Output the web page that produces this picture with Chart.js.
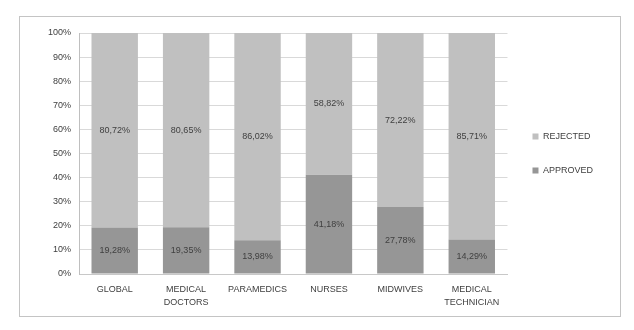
<!DOCTYPE html>
<html>
<head>
<meta charset="utf-8">
<script src="https://cdn.jsdelivr.net/npm/chart.js@4/dist/chart.umd.min.js"></script>
<style>
html,body{margin:0;padding:0;background:#fff;}
#wrap{position:relative;width:634px;height:330px;}
</style>
</head>
<body>
<div id="wrap"><canvas id="c" width="634" height="330"></canvas></div>
<script>
const categories = [["GLOBAL"], ["MEDICAL", "DOCTORS"], ["PARAMEDICS"], ["NURSES"], ["MIDWIVES"], ["MEDICAL", "TECHNICIAN"]];
const approved = [19.28, 19.35, 13.98, 41.18, 27.78, 14.29];
const rejected = [80.72, 80.65, 86.02, 58.82, 72.22, 85.71];
const yTicks = [0, 10, 20, 30, 40, 50, 60, 70, 80, 90, 100];

const FONT = "'Liberation Sans', Arial, sans-serif";
const TEXT = '#404040';

const frame = {
  id: 'frame',
  beforeDraw(chart) {
    const ctx = chart.ctx;
    ctx.save();
    ctx.fillStyle = '#fff';
    ctx.fillRect(0, 0, chart.width, chart.height);
    ctx.strokeStyle = '#c4c4c4';
    ctx.lineWidth = 1;
    ctx.strokeRect(19.5, 16.5, 601, 300);
    ctx.restore();
  }
};

const valueLabels = {
  id: 'valueLabels',
  afterDatasetsDraw(chart) {
    const ctx = chart.ctx;
    ctx.save();
    ctx.font = '9px ' + FONT;
    ctx.fillStyle = TEXT;
    ctx.textAlign = 'center';
    ctx.textBaseline = 'middle';
    chart.data.datasets.forEach((ds, i) => {
      const meta = chart.getDatasetMeta(i);
      meta.data.forEach((el, j) => {
        const p = el.getCenterPoint();
        const txt = ds.data[j].toFixed(2).replace('.', ',') + '%';
        ctx.fillText(txt, p.x, p.y);
      });
    });
    ctx.restore();
  }
};

new Chart(document.getElementById('c'), {
  type: 'bar',
  data: {
    labels: categories,
    datasets: [
      { label: 'APPROVED', data: approved, backgroundColor: '#969696', borderWidth: 0 },
      { label: 'REJECTED', data: rejected, backgroundColor: '#c0c0c0', borderWidth: 0 }
    ]
  },
  options: {
    responsive: false,
    animation: false,
    devicePixelRatio: 1,
    layout: { padding: { left: 40, top: 33, right: 31, bottom: 14 } },
    datasets: { bar: { categoryPercentage: 1, barPercentage: 0.65 } },
    scales: {
      x: {
        stacked: true,
        grid: { display: false, drawTicks: false },
        border: { color: '#c8c8c8' },
        ticks: { color: TEXT, font: { family: FONT, size: 9, lineHeight: 1.45 }, padding: 9, maxRotation: 0, autoSkip: false },
        afterFit(scale) { scale.height = 42; }
      },
      y: {
        stacked: true,
        min: 0, max: 100,
        afterBuildTicks(scale) { scale.ticks = yTicks.map(v => ({ value: v })); },
        grid: { color: '#d9d9d9', drawTicks: false },
        border: { color: '#bfbfbf' },
        ticks: { color: TEXT, font: { family: FONT, size: 9 }, padding: 8, callback: v => v + '%' },
        afterFit(scale) { scale.width = 39; }
      }
    },
    plugins: {
      legend: {
        position: 'right',
        fullSize: false,
        reverse: true,
        labels: { boxWidth: 6, boxHeight: 6, padding: 25, color: TEXT, font: { family: FONT, size: 9 } }
      },
      tooltip: { enabled: false }
    }
  },
  plugins: [frame, valueLabels]
});
</script>
</body>
</html>
